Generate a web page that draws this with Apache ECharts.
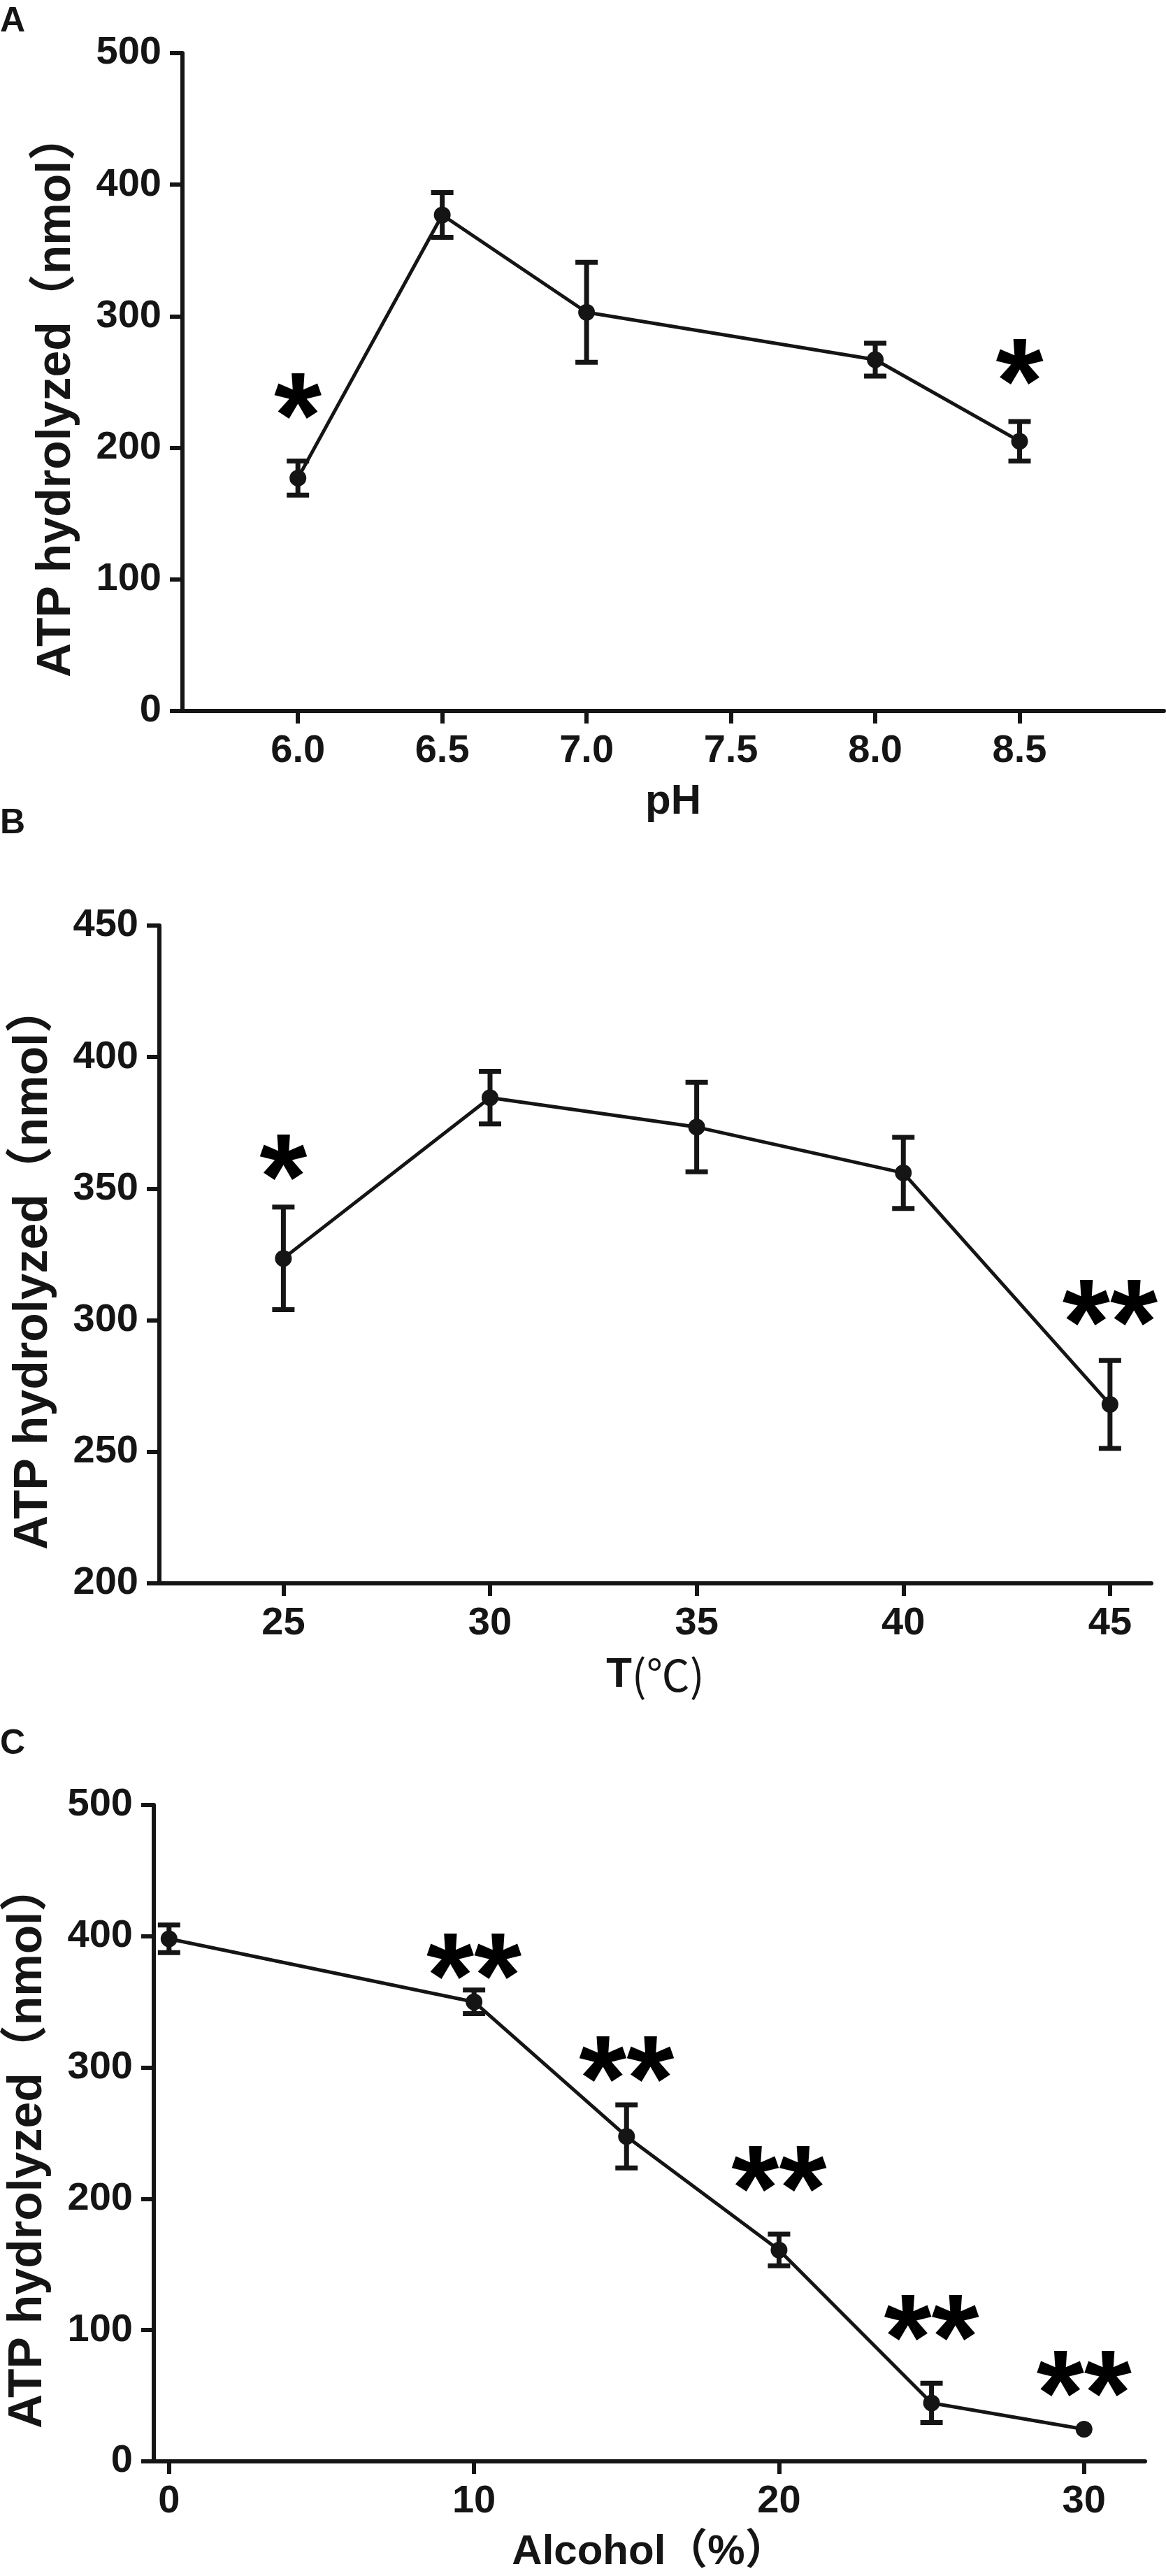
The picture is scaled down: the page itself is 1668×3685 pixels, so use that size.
<!DOCTYPE html>
<html>
<head>
<meta charset="utf-8">
<script src="https://cdn.jsdelivr.net/npm/echarts@6.0.0/dist/echarts.min.js"></script>
<style>
  html, body { margin: 0; padding: 0; background: #fff; }
  #main { width: 1668px; height: 3685px; }
</style>
</head>
<body>
<div id="main"></div>
<script>
// --- A: pH ---
const phX = [6.0, 6.5, 7.0, 8.0, 8.5];
const phMean = [177, 377, 303, 267, 205];
const phSd = [13, 17, 38, 12.5, 15];
const phSig = ['*', '', '', '', '*'];
const phSigY = [240, 0, 0, 0, 266];
const phTicks = [6.0, 6.5, 7.0, 7.5, 8.0, 8.5];

// --- B: temperature ---
const tX = [25, 30, 35, 40, 45];
const tMean = [323.5, 384.6, 373.4, 356, 268];
const tSd = [19.5, 10, 17, 13.5, 16.7];
const tSig = ['*', '', '', '', '**'];
const tSigY = [362, 0, 0, 0, 307];
const tTicks = [25, 30, 35, 40, 45];

// --- C: alcohol ---
const alcX = [0, 10, 15, 20, 25, 30];
const alcMean = [398, 350, 247.5, 161, 44.5, 24.5];
const alcSd = [10.5, 9, 24, 12, 15, 0];
const alcSig = ['', '**', '**', '**', '**', '**'];
const alcSigY = [0, 385, 307, 223, 110, 67];
const alcTicks = [0, 10, 20, 30];

const INK = '#151515';
const FONT = "'Liberation Sans', Arial, 'Noto Sans CJK SC', sans-serif";
const CJK = "'Noto Sans CJK SC', sans-serif";

const chart = echarts.init(document.getElementById('main'), null, { renderer: 'canvas' });

// 坐標軸
function xAxisCfg(i, min, max, ticks, name, fmt) {
  return {
    gridIndex: i, type: 'value', min, max, name,
    nameLocation: 'middle', nameGap: 100,
    nameTextStyle: {
      fontSize: 60, fontWeight: 'bold', color: INK, fontFamily: FONT,
      rich: {
        b: { fontSize: 60, fontWeight: 'bold', color: INK, fontFamily: FONT },
        r: { fontSize: 62, fontWeight: 'normal', color: INK, fontFamily: CJK }
      }
    },
    splitLine: { show: false },
    axisLine: { onZero: false, lineStyle: { color: INK, width: 6 } },
    axisTick: { show: true, length: 18, customValues: ticks, lineStyle: { color: INK, width: 6 } },
    axisLabel: { customValues: ticks, formatter: fmt, margin: 30, fontSize: 56, fontWeight: 'bold', color: INK, fontFamily: FONT }
  };
}
function yAxisCfg(i, min, max, interval) {
  return {
    gridIndex: i, type: 'value', min, max, interval,
    // 尾端空格讓標題略往下移，對齊原圖
    name: 'ATP hydrolyzed（nmol）  ', nameLocation: 'middle', nameGap: 146,
    nameTextStyle: { fontSize: 68, fontWeight: 'bold', color: INK, fontFamily: FONT },
    splitLine: { show: false },
    axisLine: { show: true, onZero: false, lineStyle: { color: INK, width: 6 } },
    axisTick: { show: true, length: 18, lineStyle: { color: INK, width: 6 } },
    axisLabel: { margin: 30, fontSize: 56, fontWeight: 'bold', color: INK, fontFamily: FONT }
  };
}

// 每個面板的系列：折線、誤差棒、星號
function panelSeries(i, xs, mean, sd, sig, sigY) {
  return [
    {
      type: 'line', xAxisIndex: i, yAxisIndex: i,
      data: xs.map((x, k) => [x, mean[k]]),
      symbol: 'circle', symbolSize: 24,
      itemStyle: { color: INK },
      lineStyle: { color: INK, width: 5 },
      z: 4
    },
    {
      type: 'custom', xAxisIndex: i, yAxisIndex: i,
      data: xs.map((x, k) => [x, mean[k] - sd[k], mean[k] + sd[k]]),
      renderItem: (params, api) => {
        const lo = api.coord([api.value(0), api.value(1)]);
        const hi = api.coord([api.value(0), api.value(2)]);
        if (Math.abs(lo[1] - hi[1]) < 1) return { type: 'group', children: [] };
        const hw = 16;
        const style = { stroke: INK, lineWidth: 7, fill: null };
        return {
          type: 'group',
          children: [
            { type: 'line', shape: { x1: lo[0], y1: lo[1], x2: hi[0], y2: hi[1] }, style },
            { type: 'line', shape: { x1: hi[0] - hw, y1: hi[1], x2: hi[0] + hw, y2: hi[1] }, style },
            { type: 'line', shape: { x1: lo[0] - hw, y1: lo[1], x2: lo[0] + hw, y2: lo[1] }, style }
          ]
        };
      },
      z: 3
    },
    {
      type: 'custom', xAxisIndex: i, yAxisIndex: i,
      data: xs.map((x, k) => [x, sigY[k], sig[k]]).filter(d => d[2]),
      renderItem: (params, api) => {
        const p = api.coord([api.value(0), api.value(1)]);
        return {
          type: 'text',
          style: {
            text: sig[xs.indexOf(api.value(0))],
            x: p[0], y: p[1] + 40,
            fill: '#000',
            font: `bold 175px ${FONT}`,
            textAlign: 'center', textVerticalAlign: 'middle'
          }
        };
      },
      z: 5
    }
  ];
}

chart.setOption({
  backgroundColor: '#fff',
  animation: false,
  grid: [
    { left: 261, top: 76, right: 3, height: 941, outerBoundsMode: 'none' },
    { left: 228, top: 1324, right: 21, height: 941, outerBoundsMode: 'none' },
    { left: 220, top: 2582, right: 30, height: 939, outerBoundsMode: 'none' }
  ],
  xAxis: [
    xAxisCfg(0, 5.6, 9.0, phTicks, 'pH', v => v.toFixed(1)),
    xAxisCfg(1, 22, 46, tTicks, '{b|T}{r|(℃)}', v => String(v)),
    xAxisCfg(2, -0.5, 32, alcTicks, 'Alcohol（%）', v => String(v))
  ],
  yAxis: [
    yAxisCfg(0, 0, 500, 100),
    yAxisCfg(1, 200, 450, 50),
    yAxisCfg(2, 0, 500, 100)
  ],
  graphic: [
    { type: 'text', left: 0, top: 6, style: { text: 'A', font: `bold 50px ${FONT}`, fill: INK } },
    { type: 'text', left: 0, top: 1153, style: { text: 'B', font: `bold 50px ${FONT}`, fill: INK } },
    { type: 'text', left: 0, top: 2470, style: { text: 'C', font: `bold 50px ${FONT}`, fill: INK } }
  ],
  series: [
    ...panelSeries(0, phX, phMean, phSd, phSig, phSigY),
    ...panelSeries(1, tX, tMean, tSd, tSig, tSigY),
    ...panelSeries(2, alcX, alcMean, alcSd, alcSig, alcSigY)
  ]
});
</script>
</body>
</html>
